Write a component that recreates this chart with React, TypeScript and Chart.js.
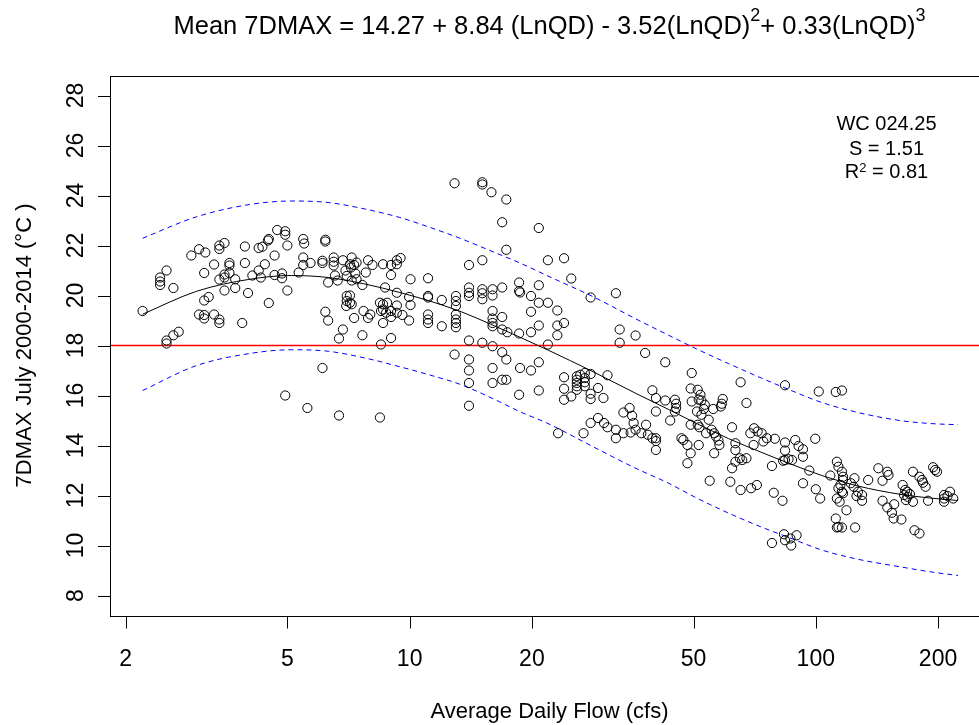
import React, { useEffect, useRef } from "react";
import { Chart, registerables } from "chart.js";

Chart.register(...registerables);

// ---------------- data ----------------
// observations: [average daily flow (cfs), 7DMAX (°C)]
const obsLowFlow: [number, number][] = [
  [2.2, 19.38], [2.43, 20.72], [2.43, 20.56], [2.43, 20.42], [2.52, 21.0], [2.62, 20.3], [2.52, 18.2], [2.52, 18.08], [2.62, 18.41], [2.7, 18.55],
  [2.9, 21.6], [3.03, 21.85], [3.14, 21.72], [3.12, 20.9], [3.3, 21.24], [3.4, 22.0], [3.4, 21.86], [3.5, 22.1], [3.6, 21.3], [3.6, 21.2],
  [3.6, 20.9], [3.5, 20.84], [3.5, 20.72], [3.4, 20.64], [3.5, 20.2], [3.72, 20.65], [3.72, 20.3], [3.93, 21.96], [3.93, 21.3], [4.0, 20.1],
  [3.12, 19.8], [3.2, 19.94], [3.03, 19.24], [3.12, 19.22], [3.12, 19.08], [3.3, 19.24], [3.4, 19.04], [3.4, 18.9], [3.87, 18.9], [4.1, 20.8],
  [4.25, 21.0], [4.25, 21.9],
  [4.72, 22.62], [4.94, 22.57], [4.94, 22.43], [4.34, 21.95], [4.5, 22.26], [4.48, 22.2], [5.0, 22.0], [4.65, 21.6], [4.4, 21.25], [4.3, 20.72],
  [4.65, 20.82], [4.85, 20.88], [4.85, 20.69], [5.0, 20.2], [4.5, 19.7], [5.47, 22.26], [5.5, 22.08], [6.2, 22.23], [6.2, 22.16], [5.47, 21.52],
  [5.47, 21.22], [5.7, 21.3], [5.33, 20.92], [6.1, 21.39], [6.1, 21.3], [6.5, 21.52], [6.5, 21.35], [6.5, 21.2], [6.85, 21.41], [7.2, 21.52],
  [7.13, 21.25], [7.3, 21.22], [7.17, 21.12], [7.4, 21.32], [7.9, 21.41], [8.1, 21.22], [8.6, 21.25], [9.0, 21.22], [9.3, 21.41], [9.3, 21.25],
  [9.0, 20.82], [7.8, 20.92], [7.35, 20.88], [7.4, 20.65], [7.0, 20.78], [7.2, 20.6], [6.95, 21.0], [6.55, 20.8], [6.65, 20.6], [6.3, 20.52],
  [7.65, 20.42], [8.7, 20.32], [9.3, 20.11], [7.0, 19.98], [7.13, 20.0], [7.0, 19.78], [7.13, 19.71], [6.98, 19.58], [7.2, 19.65], [6.2, 19.35],
  [6.3, 19.0], [7.7, 19.38], [8.0, 19.24], [7.3, 19.1], [7.9, 19.1], [8.45, 19.71], [8.6, 19.65], [8.8, 19.71], [8.6, 19.44], [8.5, 19.38],
  [8.75, 19.31], [9.0, 19.38], [9.0, 19.14], [9.3, 19.31], [8.6, 18.9], [6.85, 18.64], [6.7, 18.28], [7.65, 18.41], [8.5, 18.04], [9.0, 18.3],
  [6.1, 17.1], [4.94, 16.0], [5.6, 15.5], [6.7, 15.2], [8.45, 15.12],
  [9.5, 21.5], [9.97, 19.94], [9.6, 19.22], [9.97, 19.0], [9.3, 19.6],
];

const obsMidFlow: [number, number][] = [
  [10.05, 20.65], [11.1, 20.69], [10.05, 19.62], [11.1, 19.98], [11.1, 19.92], [12.0, 19.82], [13.0, 19.98], [13.0, 19.78], [13.0, 19.58],
  [14.0, 20.32], [14.0, 20.11], [14.0, 19.98], [15.1, 20.25], [15.1, 20.09], [15.1, 19.85], [16.0, 20.25], [16.0, 20.0], [16.9, 20.32], [18.6, 20.52], [18.6, 20.18],
  [11.1, 19.24], [11.1, 19.04], [11.1, 18.9], [12.0, 18.77], [13.0, 19.24], [13.0, 19.04], [13.0, 18.9], [13.0, 18.73],
  [16.0, 19.38], [16.0, 19.08], [16.0, 18.9], [16.0, 18.77], [16.9, 19.14], [16.9, 18.64], [17.4, 18.53], [18.6, 18.48],
  [14.0, 18.2], [15.1, 18.11], [16.0, 17.97], [16.9, 17.73], [17.3, 17.44], [12.9, 17.64], [14.0, 17.44], [14.0, 17.0], [16.0, 17.1],
  [16.9, 16.63], [17.3, 16.63], [16.0, 16.5], [14.0, 16.5], [14.0, 15.59], [18.6, 16.03],
  [12.9, 24.49], [15.1, 24.53], [15.1, 24.44], [15.9, 24.13], [17.3, 23.84], [16.9, 22.93], [17.3, 21.83], [14.0, 21.22], [15.1, 21.41],
  [20.8, 22.7], [21.9, 21.41], [24.0, 21.49], [25.0, 20.68], [18.7, 20.12], [20.8, 20.41], [19.9, 19.98], [20.8, 19.71], [21.9, 19.71], [23.1, 19.4],
  [19.9, 19.35], [27.9, 19.92], [32.2, 20.09], [20.8, 18.8], [19.9, 18.53], [23.1, 18.8], [24.0, 18.9], [23.1, 18.41], [32.9, 18.64], [32.9, 18.11],
  [36.0, 18.4], [21.9, 18.04], [18.7, 17.1], [20.8, 17.33], [19.9, 17.0], [20.8, 16.2], [24.0, 16.73], [24.0, 16.27], [24.0, 15.83], [25.0, 15.96],
  [25.8, 16.77], [25.8, 16.63], [25.8, 16.5], [25.8, 16.37], [25.8, 16.23], [26.3, 16.83], [27.0, 16.9], [27.0, 16.7], [27.0, 16.53], [27.0, 16.37],
  [27.9, 16.86], [27.9, 16.07], [27.9, 15.86], [29.1, 16.3], [30.0, 15.9], [30.7, 16.81], [23.2, 14.49], [26.8, 14.49],
  [27.9, 14.9], [29.1, 15.1], [30.1, 14.9], [30.7, 14.73], [32.2, 14.63], [32.2, 14.29],
  [33.6, 15.32], [34.8, 15.5], [35.3, 15.19], [35.6, 14.9], [36.0, 14.63], [33.6, 14.49], [35.0, 14.52],
  [38.0, 17.7], [38.2, 14.83], [37.2, 14.49], [38.6, 14.43], [39.6, 16.21], [39.6, 14.29],
];

const obsHighFlow: [number, number][] = [
  [40.4, 15.9], [42.6, 17.33], [49.5, 16.9], [65.3, 16.53], [67.5, 15.7], [42.6, 15.8], [45.0, 15.83], [45.3, 15.67],
  [49.2, 16.28], [51.2, 16.23], [52.0, 16.03], [51.5, 15.83], [49.5, 15.76], [52.3, 15.8], [53.3, 15.63], [53.0, 15.46], [51.0, 15.36], [52.3, 15.23],
  [59.0, 15.86], [58.7, 15.67], [58.4, 15.56], [55.9, 15.46], [45.3, 15.5], [45.0, 15.36], [40.4, 15.36], [43.8, 15.0],
  [40.4, 14.29], [40.4, 14.18], [40.4, 13.82], [49.2, 14.83], [51.2, 14.83], [51.7, 14.73],
  [54.5, 15.03], [56.2, 14.49], [56.8, 14.36], [57.6, 14.2], [57.9, 14.02], [56.2, 13.69], [51.5, 14.02],
  [46.7, 14.29], [47.2, 14.22], [48.3, 14.02], [49.2, 13.69], [48.3, 13.29], [53.7, 14.49], [55.4, 14.63], [62.2, 14.73],
  [63.4, 14.09], [63.4, 13.82], [65.0, 13.49], [65.9, 13.42], [67.5, 13.49], [63.4, 13.35], [62.2, 13.09], [61.6, 12.55],
  [69.0, 14.49], [70.5, 14.69], [70.3, 14.02], [54.8, 12.59], [65.3, 12.22], [69.3, 12.29], [71.6, 12.42],
  [84.0, 16.41], [101.7, 16.16], [112, 16.14], [116, 16.2],
  [71.9, 14.56], [73.6, 14.49], [75.8, 14.29], [74.3, 14.16], [79.3, 14.27],
  [84, 14.12], [84, 13.8], [89, 14.22], [90.7, 13.98], [93, 13.85], [93, 13.55], [99.7, 14.27],
  [84, 13.42], [85.7, 13.45], [87.4, 13.42], [83.1, 13.39], [78, 13.18], [96.4, 13.0], [108.6, 12.8], [93, 12.49],
  [78.8, 12.11], [82.8, 11.79], [100, 12.25], [102.5, 11.88],
  [112.7, 13.35], [113.7, 13.15], [116, 12.95], [116.7, 12.75], [116.7, 12.62], [115, 12.42], [113.7, 12.29], [116, 12.15], [116.7, 12.09], [112.7, 11.88],
  [114.5, 11.75], [119, 11.41], [124.5, 12.69], [122, 12.49], [124, 12.35], [127, 12.15], [130, 12.02], [130, 11.79], [126, 11.98], [134.6, 12.62],
  [112, 11.08], [113.7, 10.74], [116, 10.72], [112.7, 10.72], [125, 10.72],
  [83.5, 10.45], [89.7, 10.41], [86.6, 10.28], [84, 10.21], [78, 10.1], [87, 10.0],
  [142.6, 13.09], [150, 12.95], [151, 12.82], [146, 12.59],
  [173.5, 12.95], [180, 12.75], [182.6, 12.62], [183.7, 12.51], [186.4, 12.35], [194.5, 13.13], [196.7, 13.02], [198.8, 12.95],
  [163.6, 12.42], [166, 12.22], [167.9, 12.15], [165, 12.02], [168.2, 11.95], [170.5, 12.06], [166.7, 11.82], [173.5, 11.75],
  [189, 11.79], [207, 12.02], [207, 11.88], [207, 11.75], [214, 12.15], [218, 11.88], [211, 11.98],
  [146, 11.79], [150, 11.52], [156, 11.65], [154, 11.31], [155.5, 11.08], [162.5, 11.04], [175, 10.61], [180, 10.48],
];

// fitted mean curve and prediction band
const fitFlow = [2.2, 2.99, 4.04, 5.12, 6.3, 7.76, 9.46, 11.1, 13.4, 16.2, 18.7, 21.9, 28.3, 35.9, 43.3, 50.9, 60.9, 72.9, 85.5, 103.5, 127, 161, 191, 224];
const fitMean = [19.25, 20.17, 20.65, 20.8, 20.72, 20.46, 20.12, 19.8, 19.35, 18.78, 18.33, 17.82, 16.95, 16.1, 15.45, 14.88, 14.28, 13.75, 13.3, 12.8, 12.38, 12.05, 11.9, 11.8];
const fitUpper = [22.29, 23.15, 23.64, 23.78, 23.72, 23.46, 23.12, 22.75, 22.27, 21.72, 21.3, 20.78, 19.95, 19.08, 18.42, 17.86, 17.28, 16.72, 16.25, 15.72, 15.32, 15.0, 14.88, 14.83];
const fitLower = [16.2, 17.2, 17.68, 17.83, 17.77, 17.5, 17.15, 16.84, 16.43, 15.84, 15.35, 14.88, 13.95, 13.1, 12.5, 11.9, 11.3, 10.76, 10.33, 9.82, 9.45, 9.15, 8.95, 8.8];

const thresholdTemp = 18;

const xTickValues = [2, 5, 10, 20, 50, 100, 200];
const yTickValues = [8, 10, 12, 14, 16, 18, 20, 22, 24, 26, 28];

const X_MIN = 1.829;
const X_MAX = 267;
const Y_MIN = 7.2;
const Y_MAX = 28.8;

const titleParts = [
  { t: "Mean 7DMAX = 14.27 + 8.84 (LnQD) - 3.52(LnQD)", sup: false },
  { t: "2", sup: true },
  { t: "+ 0.33(LnQD)", sup: false },
  { t: "3", sup: true },
];
const xAxisTitle = "Average Daily Flow (cfs)";
const yAxisTitle = "7DMAX July 2000-2014 (°C )";
const annoLine1 = "WC 024.25";
const annoLine2 = "S = 1.51";
const annoLine3 = [
  { t: "R", sup: false },
  { t: "2", sup: true },
  { t: " = 0.81", sup: false },
];

// ---------------- layout ----------------
const CANVAS_W = 1000;
const CANVAS_H = 725;
const PLOT_LEFT = 110;
const PLOT_TOP = 75.5;
const PLOT_RIGHT = 989;
const PLOT_BOTTOM = 615.5;
const FONT = '"Liberation Sans", Arial, Helvetica, sans-serif';

type Part = { t: string; sup: boolean };

function drawRich(
  ctx: CanvasRenderingContext2D,
  parts: Part[],
  cx: number,
  baseline: number,
  size: number,
  supSize: number,
  supRaise: number
) {
  const widths = parts.map((p) => {
    ctx.font = `${p.sup ? supSize : size}px ${FONT}`;
    return ctx.measureText(p.t).width;
  });
  const total = widths.reduce((a, b) => a + b, 0);
  let x = cx - total / 2;
  ctx.textAlign = "left";
  ctx.textBaseline = "alphabetic";
  parts.forEach((p, i) => {
    ctx.font = `${p.sup ? supSize : size}px ${FONT}`;
    ctx.fillText(p.t, x, p.sup ? baseline - supRaise : baseline);
    x += widths[i];
  });
}

const decorPlugin = {
  id: "decor",
  afterDraw(chart: any) {
    const { ctx, chartArea: a, scales } = chart;
    const xs = scales.x;
    const ys = scales.y;
    ctx.save();
    ctx.strokeStyle = "#000";
    ctx.fillStyle = "#000";
    ctx.lineWidth = 1;
    // box
    ctx.strokeRect(Math.round(a.left) + 0.5, Math.round(a.top) + 0.5, Math.round(a.right - a.left), Math.round(a.bottom - a.top));

    // x ticks
    ctx.beginPath();
    xTickValues.forEach((v) => {
      const px = Math.round(xs.getPixelForValue(v)) + 0.5;
      ctx.moveTo(px, Math.round(a.bottom) + 0.5);
      ctx.lineTo(px, Math.round(a.bottom) + 12.5);
    });
    ctx.stroke();
    ctx.font = `23px ${FONT}`;
    ctx.textAlign = "center";
    ctx.textBaseline = "alphabetic";
    xTickValues.forEach((v) => {
      const px = xs.getPixelForValue(v);
      ctx.fillText(String(v), px, 666);
    });

    // y ticks
    ctx.beginPath();
    yTickValues.forEach((v) => {
      const py = Math.round(ys.getPixelForValue(v)) + 0.5;
      ctx.moveTo(Math.round(a.left) - 12, py);
      ctx.lineTo(Math.round(a.left), py);
    });
    ctx.stroke();
    yTickValues.forEach((v) => {
      const py = ys.getPixelForValue(v);
      ctx.save();
      ctx.translate(83, py);
      ctx.rotate(-Math.PI / 2);
      ctx.font = `23px ${FONT}`;
      ctx.textAlign = "center";
      ctx.fillText(String(v), 0, 0);
      ctx.restore();
    });

    // axis titles
    ctx.font = `22px ${FONT}`;
    ctx.textAlign = "center";
    ctx.fillText(xAxisTitle, (a.left + a.right) / 2, 718);
    ctx.save();
    ctx.translate(31, (a.top + a.bottom) / 2);
    ctx.rotate(-Math.PI / 2);
    ctx.fillText(yAxisTitle, 0, 0);
    ctx.restore();

    // main title
    drawRich(ctx, titleParts, (a.left + a.right) / 2, 33.5, 25.5, 18, 12.5);

    // annotation
    ctx.font = `20px ${FONT}`;
    ctx.textAlign = "center";
    ctx.fillText(annoLine1, 886.5, 129.5);
    ctx.fillText(annoLine2, 886.5, 154.5);
    drawRich(ctx, annoLine3, 886.5, 177.5, 20, 13, 6);
    ctx.restore();
  },
};

export default function App() {
  const ref = useRef<HTMLCanvasElement>(null);
  useEffect(() => {
    const canvas = ref.current;
    if (!canvas) return;
    const points = [...obsLowFlow, ...obsMidFlow, ...obsHighFlow].map(([x, y]) => ({ x, y }));
    const toLine = (ys: number[]) => fitFlow.map((x, i) => ({ x, y: ys[i] }));
    const chart = new Chart(canvas, {
      type: "scatter",
      data: {
        datasets: [
          {
            label: "observed",
            data: points,
            pointRadius: 4.6,
            pointStyle: "circle",
            borderColor: "#000",
            backgroundColor: "rgba(0,0,0,0)",
            borderWidth: 1,
            showLine: false,
          },
          {
            label: "mean",
            data: toLine(fitMean),
            showLine: true,
            pointRadius: 0,
            borderColor: "#000",
            borderWidth: 1,
            cubicInterpolationMode: "monotone",
          },
          {
            label: "upper",
            data: toLine(fitUpper),
            showLine: true,
            pointRadius: 0,
            borderColor: "#0000ff",
            borderWidth: 1,
            borderDash: [5, 4],
            cubicInterpolationMode: "monotone",
          },
          {
            label: "lower",
            data: toLine(fitLower),
            showLine: true,
            pointRadius: 0,
            borderColor: "#0000ff",
            borderWidth: 1,
            borderDash: [5, 4],
            cubicInterpolationMode: "monotone",
          },
          {
            label: "threshold",
            data: [
              { x: X_MIN, y: thresholdTemp },
              { x: X_MAX, y: thresholdTemp },
            ],
            showLine: true,
            pointRadius: 0,
            borderColor: "#ff0000",
            borderWidth: 1.5,
          },
        ],
      } as any,
      options: {
        responsive: false,
        maintainAspectRatio: false,
        animation: false,
        devicePixelRatio: 1,
        events: [],
        layout: {
          padding: {
            left: PLOT_LEFT,
            top: PLOT_TOP,
            right: CANVAS_W - PLOT_RIGHT,
            bottom: CANVAS_H - PLOT_BOTTOM,
          },
        },
        scales: {
          x: { type: "logarithmic", min: X_MIN, max: X_MAX, display: false },
          y: { type: "linear", min: Y_MIN, max: Y_MAX, display: false },
        },
        plugins: {
          legend: { display: false },
          tooltip: { enabled: false },
          title: { display: false },
        },
      } as any,
      plugins: [decorPlugin],
    });
    return () => chart.destroy();
  }, []);

  return (
    <div
      style={{
        position: "fixed",
        left: 0,
        top: 0,
        width: 979,
        height: 725,
        overflow: "hidden",
        background: "#fff",
      }}
    >
      <canvas ref={ref} width={CANVAS_W} height={CANVAS_H} style={{ display: "block" }} />
    </div>
  );
}
